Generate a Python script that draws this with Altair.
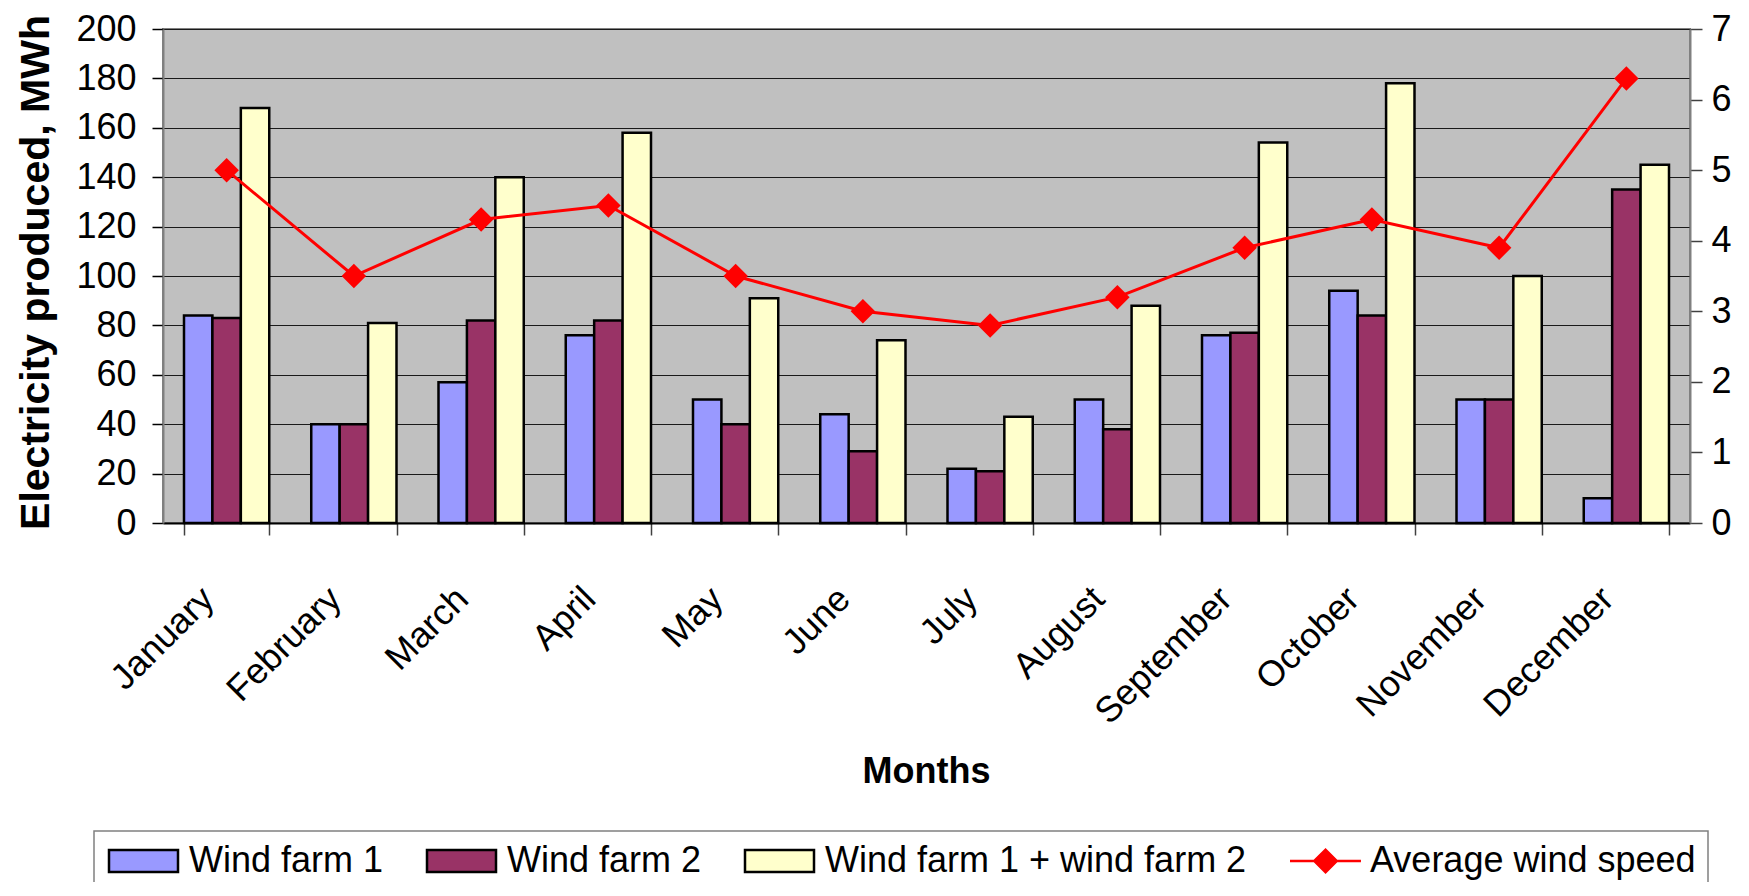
import altair as alt
import pandas as pd

months = ["January", "February", "March", "April", "May", "June", "July",
          "August", "September", "October", "November", "December"]
wind_farm_1 = [84, 40, 57, 76, 50, 44, 22, 50, 76, 94, 50, 10]
wind_farm_2 = [83, 40, 82, 82, 40, 29, 21, 38, 77, 84, 50, 135]
wind_farm_total = [168, 81, 140, 158, 91, 74, 43, 88, 154, 178, 100, 145]
avg_wind_speed = [5.0, 3.5, 4.3, 4.5, 3.5, 3.0, 2.8, 3.2, 3.9, 4.3, 3.9, 6.3]

series_names = ["Wind farm 1", "Wind farm 2", "Wind farm 1 + wind farm 2", "Average wind speed"]
series_colors = ["#9999FF", "#993366", "#FFFFCC", "#FF0000"]
left_ticks = [0, 20, 40, 60, 80, 100, 120, 140, 160, 180, 200]
right_ticks = [0, 1, 2, 3, 4, 5, 6, 7]

rows = []
for name, vals in zip(series_names[:3], [wind_farm_1, wind_farm_2, wind_farm_total]):
    for m, v in zip(months, vals):
        rows.append({"month": m, "series": name, "value": v})
bar_df = pd.DataFrame(rows)
speed_df = pd.DataFrame({"month": months, "speed": avg_wind_speed,
                         "series": series_names[3]})

FONT = "Liberation Sans"
PLOT_W, PLOT_H = 1527, 494

x_axis = alt.Axis(
    title="Months", labelAngle=-45, labelAlign="right", labelBaseline="top",
    labelFontSize=36, labelOffset=-31, labelPadding=46, labelOverlap=False,
    labelLimit=400, labelColor="#000000",
    tickSize=12, tickBand="extent", tickColor="#404040", tickWidth=1.5,
    domainColor="#000000", domainWidth=2,
    titleFontSize=36, titleFontWeight="bold", titleColor="#000000",
    titleX=763, titleY=259, titleAlign="center", titleBaseline="alphabetic",
)
x_enc = alt.X("month:N", sort=months,
              scale=alt.Scale(domain=months, paddingInner=0.33, paddingOuter=0.165),
              axis=x_axis)

swatch_path = "M-1,-0.73H3.6V0.73H-1Z"
line_path = "M-1,0H3.73M0.62,0L1.37,-0.75L2.12,0L1.37,0.75Z"

legend = alt.Legend(
    title=None, orient="none", legendX=-69, legendY=802,
    direction="horizontal", columns=4,
    symbolType={"expr": f"datum.value === 'Average wind speed' ? '{line_path}' : '{swatch_path}'"},
    symbolStrokeColor={"expr": "datum.value === 'Average wind speed' ? '#FF0000' : '#000000'"},
    symbolSize=900, symbolStrokeWidth=2.5,
    labelFontSize=36, labelOffset=47, labelLimit=600, labelColor="#000000",
    columnPadding=38, padding=12,
    strokeColor="#808080", fillColor="#FFFFFF",
)

bars = alt.Chart(bar_df).mark_bar(stroke="#000000", strokeWidth=2.5).encode(
    x=x_enc,
    xOffset=alt.XOffset("series:N", sort=series_names[:3],
                        scale=alt.Scale(domain=series_names[:3], paddingInner=0, paddingOuter=0)),
    y=alt.Y("value:Q", scale=alt.Scale(domain=[0, 200], nice=False),
            axis=alt.Axis(
                title="Electricity produced, MWh", values=left_ticks,
                labelFontSize=36, labelPadding=16, labelColor="#000000",
                tickSize=11, tickColor="#000000", tickWidth=1.5,
                domainColor="#808080", domainWidth=2,
                grid=True, gridColor="#1a1a1a", gridWidth=1,
                titleFontSize=41, titleFontWeight="bold", titleColor="#000000",
                titleX=-127, titleY=243, titleAngle=270,
                titleAlign="center", titleBaseline="middle",
            )),
    fill=alt.Fill("series:N", scale=alt.Scale(domain=series_names, range=series_colors),
                  legend=legend),
)

line = alt.Chart(speed_df).mark_line(
    color="#FF0000", strokeWidth=3,
    point=alt.OverlayMarkDef(shape="diamond", size=600, filled=True,
                             color="#FF0000", opacity=1),
).encode(
    x=x_enc,
    y=alt.Y("speed:Q", scale=alt.Scale(domain=[0, 7], nice=False),
            axis=alt.Axis(
                orient="right", title="", values=right_ticks,
                labelFontSize=36, labelPadding=9, labelColor="#000000",
                tickSize=12, tickColor="#404040", tickWidth=1.5,
                domainColor="#808080", domainWidth=2, grid=False,
            )),
)

chart = alt.layer(bars, line).resolve_scale(y="independent").properties(
    width=PLOT_W, height=PLOT_H,
    autosize=alt.AutoSizeParams(type="none"),
    padding={"left": 155, "top": 21, "right": 51, "bottom": 359},
).configure(font=FONT).configure_view(
    fill="#C0C0C0", stroke="#808080", strokeWidth=2
).configure_legend(strokeWidth=1.5)

chart.save("out.html", embed_options={"renderer": "svg", "actions": False})
